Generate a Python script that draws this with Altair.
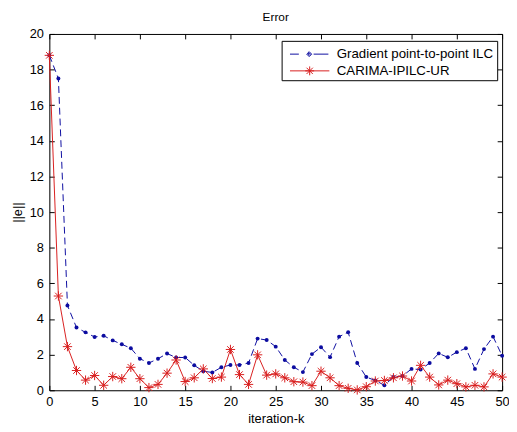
import altair as alt
import pandas as pd

iterations = list(range(51))
gradient_ilc = [18.8, 17.5, 4.76, 3.52, 3.25, 2.99, 3.06, 2.80, 2.58, 2.36, 1.77,
                1.53, 1.77, 2.06, 1.84, 1.84, 1.40, 1.07, 1.00, 1.29, 1.42,
                1.42, 1.53, 2.90, 2.82, 2.45, 1.70, 1.29, 1.02, 2.03, 2.42,
                1.86, 3.01, 3.26, 1.53, 0.74, 0.55, 0.28, 0.74, 0.80, 1.20,
                1.16, 1.53, 2.07, 1.85, 2.14, 2.36, 1.20, 2.31, 3.01, 1.94]
carima = [18.8, 5.29, 2.45, 1.11, 0.57, 0.83, 0.28, 0.77, 0.65, 1.29, 0.65,
          0.15, 0.33, 0.96, 1.70, 0.49, 0.70, 1.20, 0.66, 0.74, 2.29,
          0.88, 0.33, 1.99, 0.85, 0.92, 0.70, 0.48, 0.46, 0.26, 1.07,
          0.70, 0.26, 0.11, 0.02, 0.20, 0.52, 0.55, 0.70, 0.80, 0.52,
          1.40, 0.74, 0.30, 0.57, 0.37, 0.19, 0.28, 0.19, 0.92, 0.74]
series_names = ["Gradient point-to-point ILC", "CARIMA-IPILC-UR"]
x_ticks = [0, 5, 10, 15, 20, 25, 30, 35, 40, 45, 50]
y_ticks = [0, 2, 4, 6, 8, 10, 12, 14, 16, 18, 20]

BLUE = "#0c0ca0"
RED = "#d81e1e"
FONT = "Liberation Sans"
W, H = 460, 362

df = pd.DataFrame({
    "k": iterations + iterations,
    "v": gradient_ilc + carima,
    "series": [series_names[0]] * len(iterations) + [series_names[1]] * len(iterations),
})

xs = alt.Scale(domain=[0, 50], nice=False)
ys = alt.Scale(domain=[0, 20], nice=False)

base = alt.Chart(df)

def xenc(axis):
    return alt.X("k:Q", scale=xs, axis=axis)

def yenc(axis):
    return alt.Y("v:Q", scale=ys, axis=axis)

ax_x_main = alt.Axis(orient="bottom", values=x_ticks, ticks=False, labelPadding=5,
                     domainColor="black", labelColor="black", labelFont=FONT,
                     labelFontSize=13, title="iteration-k", titleFont=FONT,
                     titleFontSize=13, titleFontWeight="normal", titleColor="black",
                     titlePadding=5, grid=False, labelFlush=False)
ax_y_main = alt.Axis(orient="left", values=y_ticks, ticks=False, labelPadding=6,
                     domainColor="black", labelColor="black", labelFont=FONT,
                     labelFontSize=13, title="||e||", titleFont=FONT,
                     titleFontSize=13, titleFontWeight="normal", titleColor="black",
                     titlePadding=5, grid=False, labelFlush=False)
ax_x_in_bottom = alt.Axis(orient="top", offset=-H, values=x_ticks, labels=False,
                          domain=False, tickSize=5, tickColor="black", grid=False, title=None)
ax_y_in_left = alt.Axis(orient="right", offset=-W, values=y_ticks, labels=False,
                        domain=False, tickSize=5, tickColor="black", grid=False, title=None)
ax_x_in_top = alt.Axis(orient="bottom", offset=-H, values=x_ticks, labels=False,
                       domainColor="black", tickSize=5, tickColor="black", grid=False, title=None)
ax_y_in_right = alt.Axis(orient="left", offset=-W, values=y_ticks, labels=False,
                         domainColor="black", tickSize=5, tickColor="black", grid=False, title=None)

blue_df = base.transform_filter(alt.datum.series == series_names[0])
red_df = base.transform_filter(alt.datum.series == series_names[1])

blue_line = blue_df.mark_line(color=BLUE, strokeWidth=1, strokeDash=[7, 4]).encode(
    x=xenc(ax_x_main), y=yenc(ax_y_main))
red_line = red_df.mark_line(color=RED, strokeWidth=1).encode(
    x=xenc(ax_x_in_bottom), y=yenc(ax_y_in_left))
blue_pts = blue_df.mark_point(shape="circle", filled=True, size=16, color=BLUE, opacity=1).encode(
    x=xenc(ax_x_in_top), y=yenc(ax_y_in_right))
star = "M-1,0L1,0M0,-1L0,1M-0.7,-0.7L0.7,0.7M-0.7,0.7L0.7,-0.7"
red_pts = red_df.mark_point(shape=star, filled=False, size=90, color=RED, strokeWidth=1,
                            opacity=1).encode(x=xenc(None), y=yenc(None))

blue_sym = ("M-0.5,0L0.4,0M1.9,0L3.4,0M1.45,-0.25L1.7,0L1.45,0.25L1.2,0Z"
            "M1.45,-0.12L1.57,0L1.45,0.12L1.33,0Z")
red_sym = ("M-0.5,0L3.5,0M1.5,-0.45L1.5,0.45M1.05,0L1.95,0"
           "M1.18,-0.32L1.82,0.32M1.18,0.32L1.82,-0.32")
leg = dict(orient="none", legendX=236, legendY=7, padding=3, strokeColor="black",
           fillColor="white", symbolSize=400, symbolStrokeWidth=1, symbolOpacity=1,
           labelFont=FONT, labelFontSize=13.5, labelColor="black", labelOffset=32,
           labelLimit=400, rowPadding=0, title=None)
legend_layer = base.mark_point(filled=False, opacity=0).encode(
    x=xenc(None), y=yenc(None),
    color=alt.Color("series:N", scale=alt.Scale(domain=series_names, range=[BLUE, RED]),
                    legend=alt.Legend(**leg)),
    shape=alt.Shape("series:N", scale=alt.Scale(domain=series_names, range=[blue_sym, red_sym]),
                    legend=alt.Legend(**leg)),
)

chart = alt.layer(blue_line, red_line, blue_pts, red_pts, legend_layer).resolve_axis(
    x="independent", y="independent"
).properties(
    width=W, height=H,
    title=alt.TitleParams("Error", font=FONT, fontSize=12, fontWeight="normal",
                          color="black", offset=4, anchor="middle"),
    autosize=alt.AutoSizeParams(type="none"),
    padding={"left": 42, "top": 23, "right": 7, "bottom": 38},
).configure_view(stroke=None).configure(background="white")

chart.save("out.html", embed_options={"renderer": "svg", "actions": False})
